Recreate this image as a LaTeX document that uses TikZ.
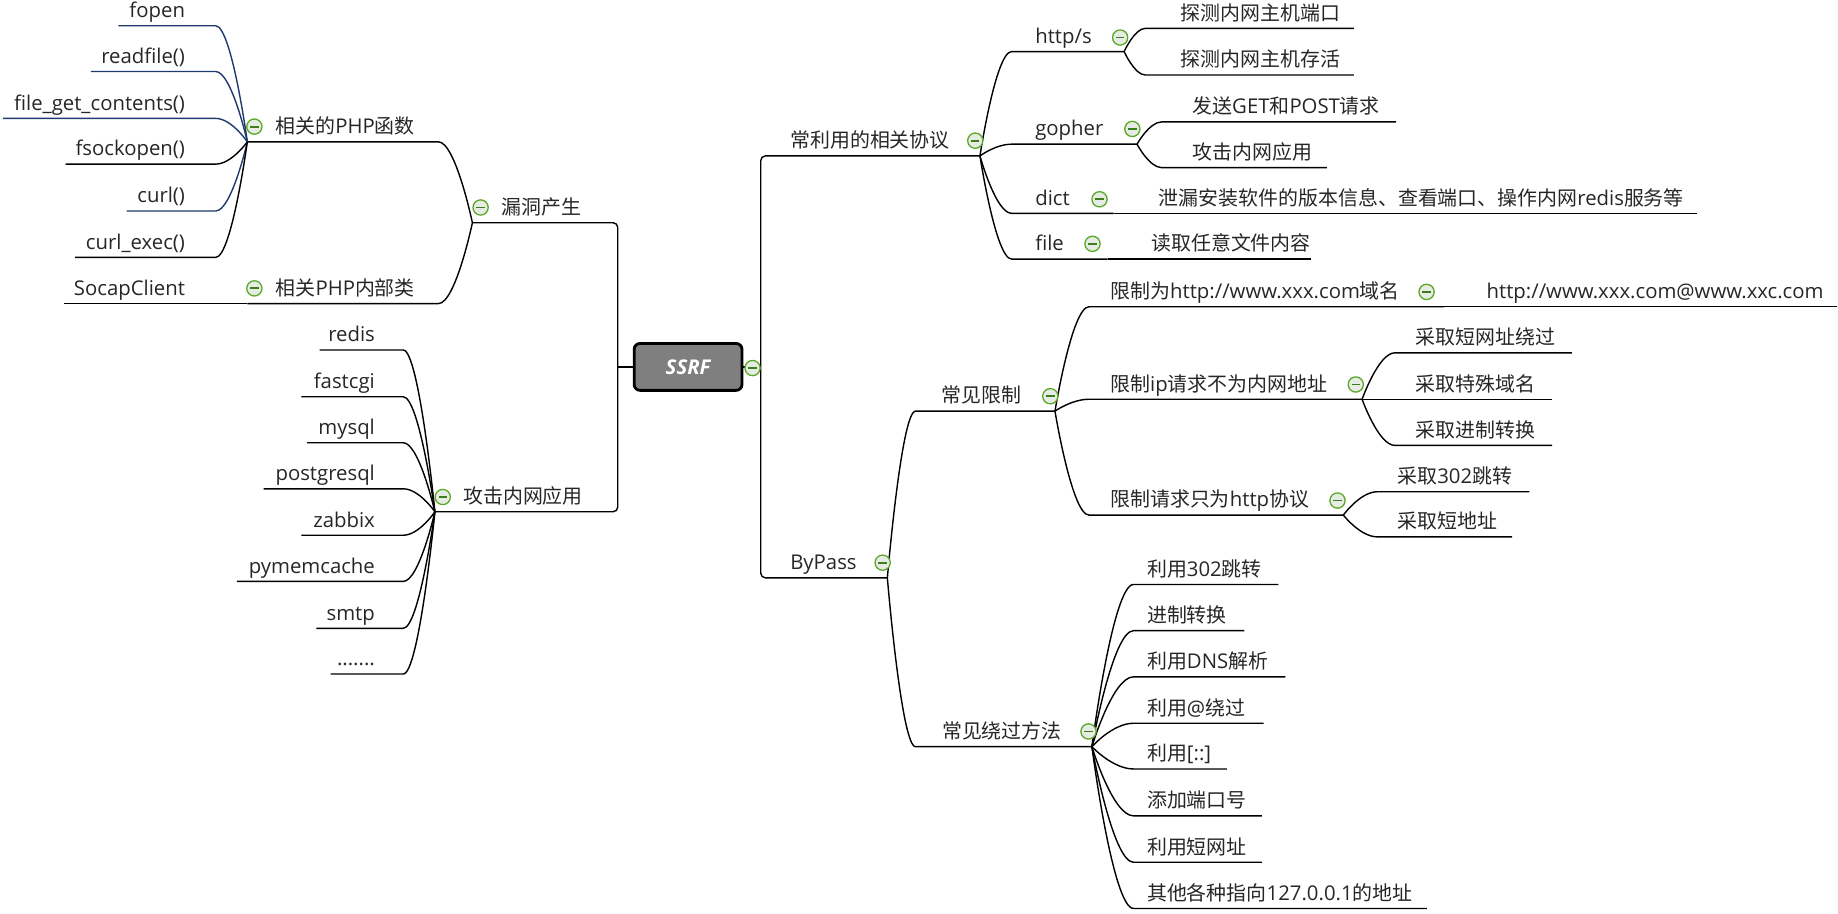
\documentclass[tikz,border=0pt]{standalone}
\usepackage{fontspec}
\setmainfont[Scale=1.02]{Open Sans}
\newfontfamily\cjkfont{Noto Sans CJK SC}
\usetikzlibrary{calc}

% Chinese characters are set in the CJK font
\XeTeXinterchartokenstate=1
\newXeTeXintercharclass\cjkclass
\count255="4E00
\loop
  \XeTeXcharclass\count255=\cjkclass
  \advance\count255 by 1
\ifnum\count255<"A000 \repeat
\XeTeXcharclass"3001=\cjkclass
\XeTeXinterchartoks 0 \cjkclass = {\begingroup\cjkfont}
\XeTeXinterchartoks 4095 \cjkclass = {\begingroup\cjkfont}
\XeTeXinterchartoks \cjkclass 0 = {\endgroup}
\XeTeXinterchartoks \cjkclass 4095 = {\endgroup}

\definecolor{textgray}{HTML}{262626}
\definecolor{navyline}{HTML}{1F3A6E}
\definecolor{foldgreen}{HTML}{5BA727}
\definecolor{foldminus}{HTML}{3C7F1A}
\definecolor{foldfill}{HTML}{E6EBE4}
\definecolor{rootgray}{HTML}{7F7F7F}

\begin{document}
\begin{tikzpicture}[
    x=1pt, y=-1pt,
    every node/.style={inner sep=0pt, text=textgray},
    lt/.style={anchor=base east, font=\fontsize{17}{20}\selectfont},
    rt/.style={anchor=base west, font=\fontsize{17}{20}\selectfont},
    link/.style={draw=black, line width=1.2pt},
    navy/.style={draw=navyline},
    trunk/.style={link, rounded corners=4pt},
    branch/.style={to path={.. controls (\tikztostart) and ($(\tikztotarget)!0.5!(\tikztostart |- \tikztotarget)$) .. (\tikztotarget) \tikztonodes}},
    fold/.style={circle, draw=foldgreen, fill=foldfill, line width=1.1pt, minimum size=13pt,
        path picture={\draw[foldminus, line width=1.6pt] ([xshift=-3.6pt]path picture bounding box.center) -- ([xshift=3.6pt]path picture bounding box.center);}},
    root/.style={rectangle, rounded corners=5pt, draw=black, line width=2.4pt, fill=rootgray,
        minimum width=92pt, minimum height=40pt, text=white, font=\fontsize{17}{20}\selectfont\bfseries\itshape}
]
    \useasboundingbox (0,0) rectangle (1568,779);

    % ========== Root and trunks ==========
    \node[root] (ssrf) at (587,313) {SSRF};
    \coordinate (ltrunk) at (527,313);
    \coordinate (rtrunk) at (649,313);
    \coordinate (vuln-l) at (403,190);
    \coordinate (attack-l) at (371,436.6);
    \coordinate (proto-r) at (836,133);
    \coordinate (bypass-r) at (757,493);
    \draw[link] (ssrf) -- (ltrunk);
    \draw[link] (ssrf) -- (rtrunk);
    \draw[trunk] (vuln-l) -| (ltrunk) |- (attack-l);
    \draw[trunk] (proto-r) -| (rtrunk) |- (bypass-r);
    \node[rt] (vuln) at (428,183) {漏洞产生};
    \node[rt] (attack) at (395,429.6) {攻击内网应用};
    \node[rt] (proto) at (674,126) {常利用的相关协议};
    \node[rt] (bypass) at (674,486) {ByPass};

    % ========== 漏洞产生 ==========
    \coordinate (php-l) at (211,121); \coordinate (php-r) at (374,121);
    \coordinate (cls-l) at (211,259); \coordinate (cls-r) at (374,259);
    \draw[link] (vuln-l) to[branch] (php-r) -- (php-l);
    \draw[link] (vuln-l) to[branch] (cls-r) -- (cls-l);
    \node[rt] (php) at (235,114) {相关的PHP函数};
    \node[rt] (cls) at (235,252) {相关PHP内部类};

    % PHP functions
    \coordinate (fopen-l) at (101,22);     \coordinate (fopen-r) at (184,22);
    \coordinate (readfile-l) at (77.6,61); \coordinate (readfile-r) at (184,61);
    \coordinate (fgc-l) at (2.7,101);      \coordinate (fgc-r) at (184,101);
    \coordinate (fsock-l) at (56,140);     \coordinate (fsock-r) at (184,140);
    \coordinate (curl-l) at (108,180);     \coordinate (curl-r) at (184,180);
    \coordinate (curlexec-l) at (64,219.6); \coordinate (curlexec-r) at (184,219.6);
    \coordinate (socap-l) at (55,259);     \coordinate (socap-r) at (184,259);
    \draw[link, navy] (php-l) to[branch] (fopen-r) -- (fopen-l);
    \draw[link, navy] (php-l) to[branch] (readfile-r) -- (readfile-l);
    \draw[link, navy] (php-l) to[branch] (fgc-r) -- (fgc-l);
    \draw[link] (php-l) to[branch] (fsock-r) -- (fsock-l);
    \draw[link, navy] (php-l) to[branch] (curl-r) -- (curl-l);
    \draw[link] (php-l) to[branch] (curlexec-r) -- (curlexec-l);
    \draw[link] (cls-l) -- (socap-r) -- (socap-l);
    \node[lt] (fopen) at (158,15) {fopen};
    \node[lt] (readfile) at (158,54) {readfile()};
    \node[lt] (fgc) at (158,94) {file\_get\_contents()};
    \node[lt] (fsock) at (158,133) {fsockopen()};
    \node[lt] (curl) at (158,173) {curl()};
    \node[lt] (curlexec) at (158,212.6) {curl\_exec()};
    \node[lt] (socap) at (158,252) {SocapClient};

    % ========== 攻击内网应用 ==========
    \coordinate (redis-l) at (272.6,298.6); \coordinate (redis-r) at (344,298.6);
    \coordinate (fcgi-l) at (257,338.5);    \coordinate (fcgi-r) at (344,338.5);
    \coordinate (mysql-l) at (262,377.7);   \coordinate (mysql-r) at (344,377.7);
    \coordinate (pgsql-l) at (225,417);     \coordinate (pgsql-r) at (344,417);
    \coordinate (zabbix-l) at (257,456.6);  \coordinate (zabbix-r) at (344,456.6);
    \coordinate (pymem-l) at (202,496);     \coordinate (pymem-r) at (344,496);
    \coordinate (smtp-l) at (270,536);      \coordinate (smtp-r) at (344,536);
    \coordinate (more-l) at (282,575);      \coordinate (more-r) at (344,575);
    \draw[link] (attack-l) to[branch] (redis-r) -- (redis-l);
    \draw[link] (attack-l) to[branch] (fcgi-r) -- (fcgi-l);
    \draw[link] (attack-l) to[branch] (mysql-r) -- (mysql-l);
    \draw[link] (attack-l) to[branch] (pgsql-r) -- (pgsql-l);
    \draw[link] (attack-l) to[branch] (zabbix-r) -- (zabbix-l);
    \draw[link] (attack-l) to[branch] (pymem-r) -- (pymem-l);
    \draw[link] (attack-l) to[branch] (smtp-r) -- (smtp-l);
    \draw[link] (attack-l) to[branch] (more-r) -- (more-l);
    \node[lt] (redis) at (320,291.6) {redis};
    \node[lt] (fcgi) at (320,331.5) {fastcgi};
    \node[lt] (mysql) at (320,370.7) {mysql};
    \node[lt] (pgsql) at (320,410) {postgresql};
    \node[lt] (zabbix) at (320,449.6) {zabbix};
    \node[lt] (pymem) at (320,489) {pymemcache};
    \node[lt] (smtp) at (320,529) {smtp};
    \node[lt] (more) at (320,568) {.......};

    % ========== 常利用的相关协议 ==========
    \coordinate (http-l) at (863,44);   \coordinate (http-r) at (959,44);
    \coordinate (gopher-l) at (863,123); \coordinate (gopher-r) at (970,123);
    \coordinate (dict-l) at (863,182);  \coordinate (dict-r) at (950,182);
    \coordinate (file-l) at (863,221);  \coordinate (file-r) at (945,221);
    \draw[link] (proto-r) to[branch] (http-l) -- (http-r);
    \draw[link] (proto-r) to[branch] (gopher-l) -- (gopher-r);
    \draw[link] (proto-r) to[branch] (dict-l) -- (dict-r);
    \draw[link] (proto-r) to[branch] (file-l) -- (file-r);
    \node[rt] (http) at (883,37) {http/s};
    \node[rt] (gopher) at (883,116) {gopher};
    \node[rt] (dict) at (883,175) {dict};
    \node[rt] (file) at (883,214) {file};

    % protocol details
    \coordinate (port-l) at (977,24.2);  \coordinate (port-r) at (1155,24.2);
    \coordinate (alive-l) at (977,64);   \coordinate (alive-r) at (1155,64);
    \coordinate (getpost-l) at (991,104); \coordinate (getpost-r) at (1191,104);
    \coordinate (intapp-l) at (991,143); \coordinate (intapp-r) at (1132,143);
    \coordinate (leak-r) at (1448,182);
    \coordinate (readany-r) at (1118,221);
    \draw[link] (http-r) to[branch] (port-l) -- (port-r);
    \draw[link] (http-r) to[branch] (alive-l) -- (alive-r);
    \draw[link] (gopher-r) to[branch] (getpost-l) -- (getpost-r);
    \draw[link] (gopher-r) to[branch] (intapp-l) -- (intapp-r);
    \draw[link] (dict-r) -- (leak-r);
    \draw[link] (file-r) -- (readany-r);
    \node[rt] (port) at (1007,17.2) {探测内网主机端口};
    \node[rt] (alive) at (1007,57) {探测内网主机存活};
    \node[rt] (getpost) at (1017,97) {发送GET和POST请求};
    \node[rt] (intapp) at (1017,136) {攻击内网应用};
    \node[rt] (leak) at (988.5,175) {泄漏安装软件的版本信息、查看端口、操作内网redis服务等};
    \node[rt] (readany) at (982,214) {读取任意文件内容};

    % ========== ByPass ==========
    \coordinate (limit-l) at (781,350.7); \coordinate (limit-r) at (900,350.7);
    \coordinate (way-l) at (781,637);     \coordinate (way-r) at (931.5,637);
    \draw[link] (bypass-r) to[branch] (limit-l) -- (limit-r);
    \draw[link] (bypass-r) to[branch] (way-l) -- (way-r);
    \node[rt] (limit) at (803,343.7) {常见限制};
    \node[rt] (way) at (803.5,630) {常见绕过方法};

    % common limits
    \coordinate (dom-l) at (929,261.7);   \coordinate (dom-r) at (1232,261.7);
    \coordinate (ip-l) at (929,340.6);    \coordinate (ip-r) at (1162,340.6);
    \coordinate (only-l) at (929,439.4);  \coordinate (only-r) at (1146,439.4);
    \draw[link] (limit-r) to[branch] (dom-l) -- (dom-r);
    \draw[link] (limit-r) to[branch] (ip-l) -- (ip-r);
    \draw[link] (limit-r) to[branch] (only-l) -- (only-r);
    \node[rt] (dom) at (947,254.7) {限制为http://www.xxx.com域名};
    \node[rt] (ip) at (947,333.6) {限制ip请求不为内网地址};
    \node[rt] (only) at (947,432.4) {限制请求只为http协议};

    \coordinate (domat-r) at (1567,261.7);
    \coordinate (short-l) at (1190,301);     \coordinate (short-r) at (1341,301);
    \coordinate (special-l) at (1190,340.6); \coordinate (special-r) at (1324,340.6);
    \coordinate (radix-l) at (1190,380);     \coordinate (radix-r) at (1324,380);
    \coordinate (jump-l) at (1175,419.5);    \coordinate (jump-r) at (1304.6,419.5);
    \coordinate (saddr-l) at (1175,458);     \coordinate (saddr-r) at (1290,458);
    \draw[link] (dom-r) -- (domat-r);
    \draw[link] (ip-r) to[branch] (short-l) -- (short-r);
    \draw[link] (ip-r) -- (special-l) -- (special-r);
    \draw[link] (ip-r) to[branch] (radix-l) -- (radix-r);
    \draw[link] (only-r) to[branch] (jump-l) -- (jump-r);
    \draw[link] (only-r) to[branch] (saddr-l) -- (saddr-r);
    \node[rt] (domat) at (1268,254.7) {http://www.xxx.com@www.xxc.com};
    \node[rt] (short) at (1207.6,294) {采取短网址绕过};
    \node[rt] (special) at (1207.6,333.6) {采取特殊域名};
    \node[rt] (radix) at (1207.6,373) {采取进制转换};
    \node[rt] (jump) at (1192,412.5) {采取302跳转};
    \node[rt] (saddr) at (1192,451) {采取短地址};

    % common bypass methods
    \coordinate (w302-l) at (967,498.6);  \coordinate (w302-r) at (1090.6,498.6);
    \coordinate (wradix-l) at (967,538);  \coordinate (wradix-r) at (1061.5,538);
    \coordinate (wdns-l) at (967,577.4);  \coordinate (wdns-r) at (1096.5,577.4);
    \coordinate (wat-l) at (967,617);     \coordinate (wat-r) at (1078,617);
    \coordinate (wv6-l) at (967,656);     \coordinate (wv6-r) at (1046.7,656);
    \coordinate (wport-l) at (967,696);   \coordinate (wport-r) at (1076.5,696);
    \coordinate (wshort-l) at (967,735.6); \coordinate (wshort-r) at (1076.5,735.6);
    \coordinate (wlocal-l) at (967,775);  \coordinate (wlocal-r) at (1217.3,775);
    \draw[link] (way-r) to[branch] (w302-l) -- (w302-r);
    \draw[link] (way-r) to[branch] (wradix-l) -- (wradix-r);
    \draw[link] (way-r) to[branch] (wdns-l) -- (wdns-r);
    \draw[link] (way-r) to[branch] (wat-l) -- (wat-r);
    \draw[link] (way-r) to[branch] (wv6-l) -- (wv6-r);
    \draw[link] (way-r) to[branch] (wport-l) -- (wport-r);
    \draw[link] (way-r) to[branch] (wshort-l) -- (wshort-r);
    \draw[link] (way-r) to[branch] (wlocal-l) -- (wlocal-r);
    \node[rt] (w302) at (978.4,491.6) {利用302跳转};
    \node[rt] (wradix) at (978.4,531) {进制转换};
    \node[rt] (wdns) at (978.4,570.4) {利用DNS解析};
    \node[rt] (wat) at (978.4,610) {利用@绕过};
    \node[rt] (wv6) at (978.4,649) {利用[::]};
    \node[rt] (wport) at (978.4,689) {添加端口号};
    \node[rt] (wshort) at (978.4,728.6) {利用短网址};
    \node[rt] (wlocal) at (978.4,768) {其他各种指向127.0.0.1的地址};

    % Fold markers
    \node[fold] (fold-ssrf) at (642,314) {};
    \node[fold] (fold-php) at (217,108) {};
    \node[fold] (fold-vuln) at (410,177) {};
    \node[fold] (fold-cls) at (217,246) {};
    \node[fold] (fold-attack) at (377.7,424) {};
    \node[fold] (fold-proto) at (832,120) {};
    \node[fold] (fold-bypass) at (753,480) {};
    \node[fold] (fold-http) at (955.6,32) {};
    \node[fold] (fold-gopher) at (966,110) {};
    \node[fold] (fold-dict) at (938,170) {};
    \node[fold] (fold-file) at (932,208) {};
    \node[fold] (fold-limit) at (896,338) {};
    \node[fold] (fold-dom) at (1217,249) {};
    \node[fold] (fold-ip) at (1156.6,328) {};
    \node[fold] (fold-only) at (1141,427) {};
    \node[fold] (fold-way) at (928.6,624) {};
\end{tikzpicture}
\end{document}
